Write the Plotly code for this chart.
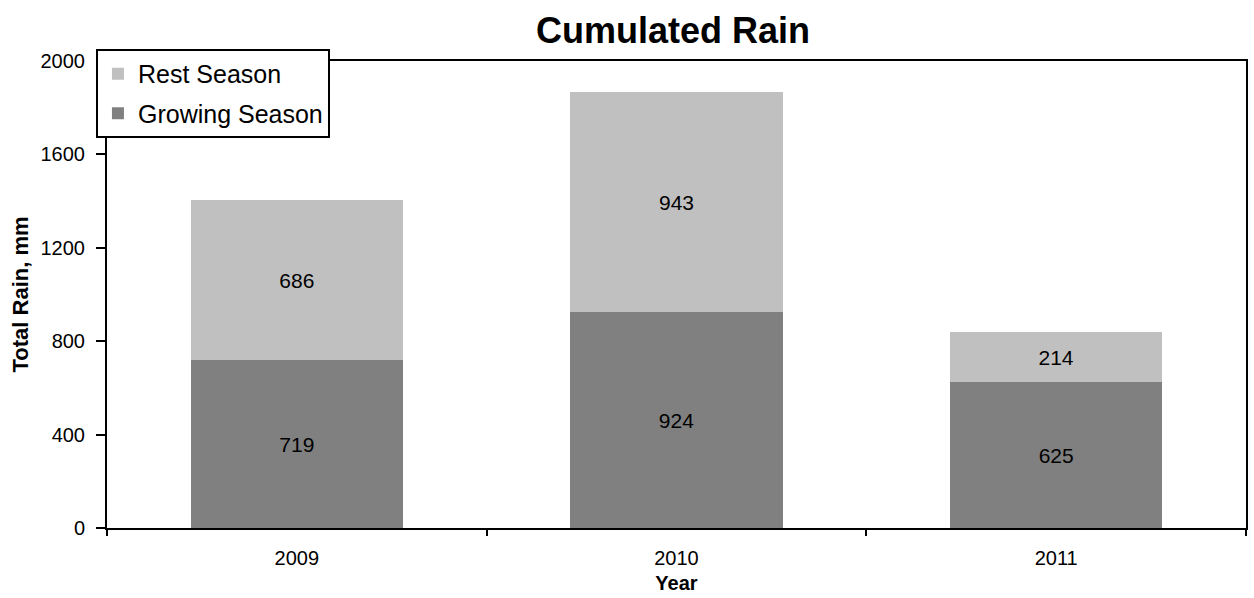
import plotly.graph_objects as go

# Cumulated rain per year, split by season (mm)
years = ["2009", "2010", "2011"]
growing_season = [719, 924, 625]
rest_season = [686, 943, 214]
y_ticks = [0, 400, 800, 1200, 1600, 2000]

FONT = "Arial, 'Liberation Sans', sans-serif"

fig = go.Figure()
fig.add_trace(go.Bar(
    x=years, y=growing_season, name="Growing Season",
    legendgroup="growing", legendrank=2,
    marker=dict(color="#808080", line=dict(width=0)),
    text=[str(v) for v in growing_season], textposition="inside",
    insidetextanchor="middle", textangle=0,
    textfont=dict(size=21, color="black", family=FONT),
))
fig.add_trace(go.Bar(
    x=years, y=rest_season, name="Rest Season",
    legendgroup="rest", legendrank=1,
    marker=dict(color="#C0C0C0", line=dict(width=0)),
    text=[str(v) for v in rest_season], textposition="inside",
    insidetextanchor="middle", textangle=0,
    textfont=dict(size=21, color="black", family=FONT),
))

fig.update_layout(
    barmode="stack",
    bargap=0.44,
    width=1254, height=598,
    margin=dict(l=107, r=8, t=61, b=70),
    paper_bgcolor="white", plot_bgcolor="white",
    font=dict(family=FONT, color="black", size=20),
    uniformtext=dict(mode=False),
    title=dict(
        text="<b>Cumulated Rain</b>",
        x=0.497, xref="paper", xanchor="center",
        y=1 - 30 / 598, yref="container", yanchor="middle",
        font=dict(size=36, family=FONT, color="black"),
    ),
    legend=dict(
        x=-0.0097, y=1.0257, xanchor="left", yanchor="top",
        traceorder="grouped", tracegroupgap=4,
        bgcolor="white", bordercolor="black", borderwidth=2,
        font=dict(size=25, family=FONT, color="black"),
        itemwidth=30,
    ),
    showlegend=True,
)

fig.update_xaxes(
    type="category", automargin=False,
    showline=True, linecolor="black", linewidth=2, mirror=True,
    ticks="outside", tickson="boundaries", ticklen=6, tickwidth=2, tickcolor="black",
    showgrid=False, zeroline=False,
    tickfont=dict(size=20, family=FONT),
    ticklabelstandoff=11,
    title=dict(text="<b>Year</b>", font=dict(size=20, family=FONT), standoff=8),
)
fig.update_yaxes(
    range=[0, 2000], automargin=False,
    tickvals=y_ticks, ticktext=[str(v) for v in y_ticks],
    showline=True, linecolor="black", linewidth=2, mirror=True,
    ticks="outside", ticklen=9, tickwidth=2, tickcolor="black",
    showgrid=False, zeroline=False,
    tickfont=dict(size=20, family=FONT),
    ticklabelstandoff=7,
    title=dict(text="<b>Total Rain, mm</b>", font=dict(size=22, family=FONT), standoff=6),
)

fig.write_html("out.html")
